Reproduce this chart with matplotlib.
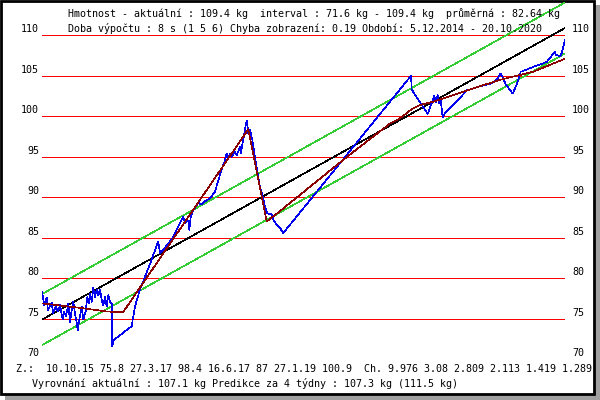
import matplotlib
matplotlib.use("Agg")
import matplotlib.pyplot as plt
from matplotlib.patches import Rectangle

# measured weight (decimal year, kg)
blue_t = [2014.853, 2014.873, 2014.904, 2014.918, 2014.961, 2014.975, 2015.006, 2015.032,
          2015.055, 2015.086, 2015.101, 2015.124, 2015.150, 2015.169, 2015.189, 2015.207,
          2015.226, 2015.246, 2015.257, 2015.275, 2015.303, 2015.321, 2015.348, 2015.367,
          2015.386, 2015.397, 2015.417, 2015.435, 2015.454, 2015.474, 2015.492, 2015.511,
          2015.531, 2015.549, 2015.568, 2015.588, 2015.606, 2015.625, 2015.645, 2015.650,
          2015.671, 2015.873, 2015.880, 2015.910, 2015.967, 2016.025, 2016.101, 2016.139,
          2016.165, 2016.176, 2016.196, 2016.233, 2016.290, 2016.347, 2016.404, 2016.461,
          2016.481, 2016.500, 2016.526, 2016.530, 2016.546, 2016.575, 2016.632, 2016.671,
          2016.709, 2016.766, 2016.823, 2016.860, 2016.899, 2016.937, 2016.956, 2016.974,
          2016.994, 2017.013, 2017.051, 2017.070, 2017.108, 2017.116, 2017.145, 2017.176,
          2017.188, 2017.202, 2017.222, 2017.248, 2017.267, 2017.290, 2017.316, 2017.336,
          2017.367, 2017.393, 2017.419, 2017.469, 2017.488, 2017.526, 2017.564, 2017.602,
          2019.058, 2019.066, 2019.248, 2019.323, 2019.343, 2019.362, 2019.380, 2019.396,
          2019.419, 2019.445, 2019.560, 2019.693, 2019.731, 2019.845, 2019.959, 2020.035,
          2020.081, 2020.141, 2020.217, 2020.263, 2020.301, 2020.309, 2020.338, 2020.452,
          2020.605, 2020.700, 2020.708, 2020.757, 2020.776, 2020.814]
blue_kg = [78.3, 76.7, 77.6, 76.1, 77.0, 75.7, 76.5, 75.9,
           76.7, 74.9, 75.9, 75.3, 76.9, 74.6, 76.1, 77.1,
           75.7, 74.5, 73.6, 74.9, 76.5, 74.9, 75.9, 77.7,
           76.9, 78.1, 77.1, 78.8, 77.7, 78.6, 77.9, 78.6,
           77.3, 76.7, 77.7, 76.5, 77.9, 77.1, 76.9, 71.6,
           72.4, 74.1, 74.6, 76.5, 78.6, 80.2, 82.3, 83.5,
           84.3, 84.5, 83.1, 83.5, 84.3, 85.1, 86.4, 87.6,
           86.8, 87.2, 87.0, 86.0, 87.6, 88.4, 89.3, 89.1,
           89.5, 89.9, 90.7, 92.1, 93.4, 94.6, 95.4, 94.8,
           95.4, 95.0, 95.6, 95.2, 96.2, 95.4, 97.1, 99.1,
           99.5, 97.9, 98.3, 97.1, 95.8, 94.2, 92.5, 91.3,
           90.1, 88.8, 88.0, 87.9, 87.2, 86.6, 86.2, 85.6,
           105.0, 103.3, 100.3, 102.5, 101.8, 102.6, 101.6, 102.0,
           99.9, 100.4, 101.6, 103.2, 103.3, 103.7, 104.0, 104.5,
           105.3, 103.9, 102.8, 103.9, 105.1, 105.5, 105.6, 106.1,
           106.7, 108.0, 107.6, 107.4, 107.8, 109.4]

# piecewise fit (dark red)
fit_t = [2014.853, 2015.321, 2015.588, 2015.774, 2017.202, 2017.412, 2017.564, 2018.328,
         2018.818, 2018.932, 2019.069, 2019.160, 2019.309, 2019.696, 2020.073, 2020.449, 2020.814]
fit_kg = [76.9, 76.3, 75.9, 75.8, 98.4, 87.0, 88.3, 95.0,
          99.1, 99.75, 100.9, 101.4, 101.8, 103.2, 104.5, 105.5, 107.1]

# linear trend and its band
trend_t = [2014.85, 2020.814]
trend_kg = [74.9, 110.9]
band = 3.15

levels = [70, 75, 80, 85, 90, 95, 100, 105, 110]
t_min, t_max = 2014.85, 2020.814

header1 = "Hmotnost - aktuální : 109.4 kg  interval : 71.6 kg - 109.4 kg  průměrná : 82.64 kg"
header2 = "Doba výpočtu : 8 s (1 5 6) Chyba zobrazení: 0.19 Období: 5.12.2014 - 20.10.2020"
footer1 = "Z.:  10.10.15 75.8 27.3.17 98.4 16.6.17 87 27.1.19 100.9  Ch. 9.976 3.08 2.809 2.113 1.419 1.289"
footer2 = "Vyrovnání aktuální : 107.1 kg Predikce za 4 týdny : 107.3 kg (111.5 kg)"

MONO = "DejaVu Sans Mono"
FS = 7.2
LW = 0.45
W, H = 600, 400

fig = plt.figure(figsize=(6, 4), dpi=100)

# shadow + frame
fig.patches.append(Rectangle((5 / W, 0), 1 - 5 / W, 1 - 5 / H, transform=fig.transFigure,
                             facecolor="#a0a0a0", edgecolor="none", zorder=-3))
fig.patches.append(Rectangle((1 / W, 6 / H), 593 / W, 393 / H, transform=fig.transFigure,
                             facecolor="white", edgecolor="black", lw=2.0, zorder=-2))

ax = fig.add_axes([42 / W, (H - 359.3) / H, 523 / W, 357.3 / H])
ax.set_facecolor("none")
ax.set_axis_off()
ax.set_xlim(t_min, t_max)
ax.set_ylim(70, 70 + 357.3 / 8.1)

ax.hlines(levels, t_min, t_max, colors="#ff0000", lw=0.72, antialiased=False, snap=True, zorder=1)
for v in levels:
    ax.annotate(str(v), xy=(0, v), xycoords=("axes fraction", "data"), xytext=(-3, 6),
                textcoords="offset pixels", ha="right", va="center", family=MONO, fontsize=FS)
    ax.annotate(str(v), xy=(1, v), xycoords=("axes fraction", "data"), xytext=(7, 6),
                textcoords="offset pixels", ha="left", va="center", family=MONO, fontsize=FS)

ax.plot(trend_t, [k + band for k in trend_kg], color="#33cc33", lw=LW, antialiased=False, zorder=2)
ax.plot(trend_t, [k - band for k in trend_kg], color="#33cc33", lw=LW, antialiased=False, zorder=2)
ax.plot(trend_t, trend_kg, color="black", lw=LW, antialiased=False, zorder=3)
ax.plot(blue_t, blue_kg, color="#0000ee", lw=LW, antialiased=False, zorder=4)
ax.plot(fit_t, fit_kg, color="#8b0000", lw=LW, antialiased=False, zorder=5)

fig.text(68 / W, 1 - 14 / H, header1, family=MONO, fontsize=FS, va="center")
fig.text(68 / W, 1 - 29 / H, header2, family=MONO, fontsize=FS, va="center")
fig.text(16 / W, 1 - 369.3 / H, footer1, family=MONO, fontsize=FS, va="center")
fig.text(31.5 / W, 1 - 383.3 / H, footer2, family=MONO, fontsize=FS, va="center")

fig.savefig("out.png", dpi=100)
